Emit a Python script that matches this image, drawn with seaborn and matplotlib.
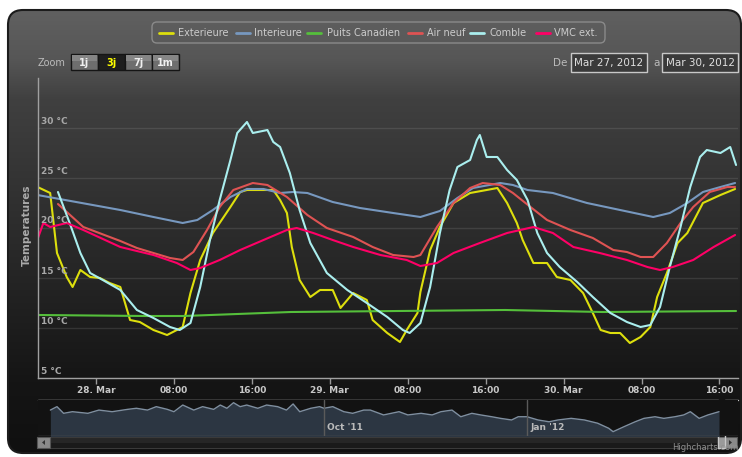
import pandas as pd
import matplotlib
matplotlib.use("Agg")
import matplotlib.pyplot as plt
import matplotlib.dates as mdates
import matplotlib.transforms as mtransforms
from matplotlib.patches import FancyBboxPatch, Rectangle, Polygon
from matplotlib.colors import LinearSegmentedColormap
from matplotlib.ticker import FuncFormatter
import numpy as np
import seaborn as sns

# values, hours counted from 28 Mar 2012 00:00
ext_h = [-6.0, -4.7, -4.0, -3.0, -2.4, -1.6, -0.6, 0.4, 1.4, 2.5, 3.5, 4.5, 5.9, 7.3, 8.9, 9.7, 10.7, 12.0,
         13.8, 14.8, 15.5, 16.8, 18.2, 18.9, 19.6, 20.1, 20.9, 22.0, 23.0, 24.3, 25.1, 26.4, 27.8, 28.4,
         29.9, 31.2, 31.9, 33.0, 33.3, 34.3, 35.3, 36.7, 38.4, 40.1, 41.2, 42.2, 43.2, 43.8, 44.9, 46.3,
         47.3, 48.7, 50.0, 51.0, 51.8, 52.8, 53.8, 54.8, 55.9, 56.9, 57.6, 58.6, 59.7, 60.7, 62.3, 64.1, 65.6]
ext_t = [24.1, 23.5, 17.5, 15.1, 14.1, 15.8, 15.1, 15.0, 14.5, 14.1, 10.8, 10.6, 9.8, 9.3, 10.1, 13.5, 16.8, 19.5,
         22.1, 23.6, 23.8, 23.8, 23.8, 22.8, 21.5, 18.1, 14.8, 13.1, 13.8, 13.8, 12.0, 13.5, 12.8, 10.8,
         9.5, 8.6, 9.8, 11.5, 13.6, 17.8, 20.1, 22.5, 23.5, 23.8, 24.0, 22.5, 20.5, 18.8, 16.5, 16.5,
         15.1, 14.8, 13.5, 11.5, 9.8, 9.5, 9.5, 8.5, 9.1, 10.1, 13.1, 15.5, 18.5, 19.5, 22.5, 23.3, 23.9]

int_h = [-6.0, 2.5, 5.9, 8.9, 10.4, 12.0, 13.8, 15.5, 17.2, 18.9, 20.2, 21.7, 24.3, 27.1, 30.5, 33.3,
         35.3, 37.1, 38.7, 41.5, 42.8, 44.3, 46.9, 50.4, 53.8, 57.2, 58.9, 60.7, 62.3, 64.1, 65.6]
int_t = [23.3, 21.8, 21.1, 20.5, 20.8, 21.8, 23.1, 23.9, 23.9, 23.5, 23.6, 23.5, 22.6, 22.0, 21.5, 21.1,
         21.7, 23.0, 24.0, 24.5, 24.3, 23.8, 23.5, 22.5, 21.8, 21.1, 21.5, 22.5, 23.6, 24.1, 24.5]

pc_h = [-6.0, 5.0, 9.0, 20.0, 42.0, 52.0, 65.7]
pc_t = [11.3, 11.2, 11.2, 11.6, 11.8, 11.6, 11.7]

air_h = [-3.9, -1.3, 2.5, 4.2, 5.9, 7.6, 8.9, 10.0, 11.4, 12.7, 14.1, 16.1, 17.6, 19.6, 21.7, 23.7,
         26.4, 28.4, 30.5, 32.6, 33.3, 35.0, 36.7, 38.4, 39.7, 41.5, 42.8, 44.6, 46.3, 48.7, 51.0,
         53.1, 54.5, 55.9, 57.2, 58.6, 60.0, 61.3, 63.0, 64.8, 65.6]
air_t = [22.4, 20.1, 18.7, 18.0, 17.5, 17.0, 16.8, 17.6, 19.8, 22.1, 23.8, 24.5, 24.3, 23.1, 21.3, 20.0,
         19.1, 18.1, 17.3, 17.1, 17.3, 20.1, 22.5, 24.0, 24.5, 24.3, 23.5, 22.1, 20.8, 19.8, 19.0,
         17.8, 17.6, 17.1, 17.1, 18.5, 20.5, 22.1, 23.6, 24.1, 24.1]

com_h = [-3.9, -2.7, -1.6, -0.6, 0.7, 2.5, 4.2, 5.9, 7.6, 8.6, 9.7, 10.7, 11.7, 12.7, 13.8, 14.5,
         15.5, 16.1, 17.6, 18.2, 18.9, 19.9, 20.9, 22.0, 23.7, 25.8, 27.8, 29.9, 31.5, 32.2, 33.3,
         34.3, 35.3, 36.3, 37.1, 38.4, 39.1, 39.4, 40.1, 41.2, 42.2, 43.2, 44.3, 45.3, 46.3, 47.6,
         49.4, 51.0, 52.8, 54.5, 55.9, 56.9, 57.9, 58.9, 60.0, 61.0, 62.0, 62.7, 64.1, 65.1, 65.7]
com_t = [23.6, 20.5, 17.5, 15.5, 14.8, 13.8, 11.8, 11.0, 10.1, 9.8, 10.5, 14.1, 18.8, 22.8, 26.8, 29.5,
         30.6, 29.5, 29.8, 28.6, 28.1, 25.5, 21.8, 18.5, 15.5, 13.8, 12.5, 11.1, 9.8, 9.5, 10.5,
         14.1, 19.5, 23.8, 26.1, 26.8, 28.8, 29.3, 27.1, 27.1, 25.8, 24.8, 22.8, 19.5, 17.5, 16.1,
         14.6, 13.1, 11.5, 10.6, 10.1, 10.3, 12.1, 16.1, 20.1, 24.1, 27.1, 27.8, 27.5, 28.1, 26.3]

vmc_h = [-6.1, -5.4, -4.7, -3.0, -1.3, 2.5, 5.9, 8.3, 9.7, 10.7, 12.7, 14.8, 17.2, 19.6, 20.6, 22.3,
         24.3, 26.4, 29.2, 31.9, 33.3, 35.0, 36.7, 39.4, 42.2, 44.9, 46.9, 49.0, 51.7, 54.5, 56.6,
         57.9, 59.2, 61.3, 63.4, 65.6]
vmc_t = [18.6, 20.5, 20.1, 20.5, 19.8, 18.1, 17.3, 16.5, 15.8, 16.0, 16.8, 17.8, 18.8, 19.8, 20.0, 19.5,
         18.8, 18.1, 17.3, 16.8, 16.2, 16.5, 17.5, 18.5, 19.5, 20.1, 19.5, 18.1, 17.5, 16.8, 16.1,
         15.8, 16.1, 16.8, 18.1, 19.3]

series_names = ["Exterieure", "Interieure", "Puits Canadien", "Air neuf", "Comble", "VMC ext."]
series_colors = ["#DDDF0D", "#7798BF", "#55BF3B", "#DF5353", "#AAEEEE", "#FF0066"]
series_hours = [ext_h, int_h, pc_h, air_h, com_h, vmc_h]
series_temps = [ext_t, int_t, pc_t, air_t, com_t, vmc_t]

y_ticks = [5, 10, 15, 20, 25, 30]

# navigator: long range series, days from 1 Oct 2011
nav_days = [-124, -121, -118, -114, -107, -102, -96, -89, -85, -80, -76, -71, -68, -64, -59, -55, -50, -47,
            -44, -41, -38, -35, -30, -26, -21, -17, -14, -11, -6, -2, 0, 4, 9, 13, 18, 21,
            27, 34, 38, 44, 49, 53, 58, 62, 67, 71, 76, 80, 85, 88, 92, 97, 102, 106, 112, 118, 124,
            129, 131, 136, 141, 145, 150, 154, 159, 163, 166, 170, 174, 179]
nav_vals = [14.4, 16.3, 12.6, 13.5, 12.6, 14.4, 13.5, 14.8, 15.4, 14.4, 16.3, 14.8, 13.5, 17.2, 14.4, 16.3,
            14.8, 17.2, 15.4, 18.5, 16.3, 17.2, 15.4, 17.2, 16.3, 14.4, 17.8, 13.5, 15.4, 16.3, 15.4, 16.3,
            13.5, 12.6, 14.4, 14.4,
            11.7, 13.5, 11.7, 12.6, 11.7, 13.5, 14.4, 10.7, 12.6, 11.7, 10.7, 9.8, 8.9, 10.7, 10.7, 8.9,
            7.9, 8.9, 9.8, 8.9, 7.1, 4.3, 2.4, 5.2, 7.9, 9.8, 10.7, 9.8, 10.7, 11.7, 13.5, 9.8, 11.7, 13.5]
nav_months = ["2011-10-01", "2012-01-01"]
nav_month_labels = ["Oct '11", "Jan '12"]

t0 = pd.Timestamp("2012-03-28 00:00")
nav0 = pd.Timestamp("2011-10-01")
sel_start = pd.Timestamp("2012-03-27 18:00")
sel_end = pd.Timestamp("2012-03-30 17:50")

frames = []
for name, h, t in zip(series_names, series_hours, series_temps):
    frames.append(pd.DataFrame({"time": t0 + pd.to_timedelta(h, unit="h"), "temp": t, "serie": name}))
df = pd.concat(frames, ignore_index=True)

nav_df = pd.DataFrame({"date": nav0 + pd.to_timedelta(nav_days, unit="D"), "val": nav_vals})

sns.set_theme(style="dark")
plt.rcParams["font.family"] = ["DejaVu Sans"]

W, H = 742, 457
fig = plt.figure(figsize=(W / 100, H / 100), dpi=100)
fig.patch.set_facecolor("white")

# background (pixel coordinates, y down)
bg = fig.add_axes([0, 0, 1, 1], zorder=-10)
bg.set_xlim(0, W)
bg.set_ylim(H, 0)
bg.axis("off")
box = FancyBboxPatch((8, 10), 733, 443, boxstyle="round,pad=0,rounding_size=15",
                     fc="none", ec="#1c1c1c", lw=1.5, transform=bg.transData)
grad = LinearSegmentedColormap.from_list(
    "g", [(0.0, "#606060"), (0.11, "#565656"), (0.2, "#404040"), (0.84, "#151515"), (1.0, "#101010")])
im = bg.imshow(np.linspace(0, 1, 256).reshape(-1, 1), cmap=grad, aspect="auto",
               extent=(8, 741, 453, 10), zorder=0)
im.set_clip_path(box)
bg.add_patch(box)

# legend
leg_box = FancyBboxPatch((152, 22), 453, 21, boxstyle="round,pad=0,rounding_size=5",
                         fc="none", ec="#8a8a8a", lw=1)
bg.add_patch(leg_box)
leg_line_x = [159, 236, 307, 408, 470, 536]
leg_text_x = [178, 254, 327, 427, 490, 554]
for name, col, lx, tx in zip(series_names, series_colors, leg_line_x, leg_text_x):
    bg.plot([lx, lx + 14], [33, 33], color=col, lw=2)
    bg.text(tx, 33.5, name, color="#CCCCCC", fontsize=7, va="center", ha="left")

# zoom buttons
bg.text(38, 62.5, "Zoom", color="#BBBBBB", fontsize=7, va="center")
btn_labels = ["1j", "3j", "7j", "1m"]
btn_x = [71, 98, 125, 152]
for lab, bx in zip(btn_labels, btn_x):
    sel = lab == "3j"
    bg.add_patch(Rectangle((bx, 54), 27, 16, fc="#1e1e1e" if sel else "#6e6e6e", ec="#151515", lw=1))
    if not sel:
        bg.add_patch(Rectangle((bx + 1, 55), 25, 6, fc="#858585", ec="none"))
    bg.text(bx + 13.5, 62.5, lab, color="#FFFF00" if sel else "#F0F0F0", fontsize=7,
            fontweight="bold", ha="center", va="center")

# date inputs
bg.text(553, 63, "De", color="#BBBBBB", fontsize=7.5, va="center")
bg.text(653, 63, "a", color="#BBBBBB", fontsize=7.5, va="center")
for bx, txt in zip([571, 662], ["Mar 27, 2012", "Mar 30, 2012"]):
    bg.add_patch(Rectangle((bx, 53), 76, 19, fc="#3a3a3a", ec="#C8C8C8", lw=1))
    bg.text(bx + 38, 63, txt, color="#E0E0E0", fontsize=7.5, ha="center", va="center")

bg.text(27, 225, "Temperatures", rotation=90, color="#AAAAAA", fontsize=7.5, fontweight="bold",
        ha="center", va="center")
bg.text(738, 452, "Highcharts.com", color="#909090", fontsize=6, ha="right", va="bottom")

# main chart
ax = fig.add_axes([38 / W, 1 - 378 / H, 700 / W, 300 / H])
ax.set_facecolor("none")
sns.lineplot(data=df, x="time", y="temp", hue="serie", hue_order=series_names,
             palette=dict(zip(series_names, series_colors)), estimator=None, linewidth=1.5,
             legend=False, ax=ax)
ax.set_xlim(t0 - pd.Timedelta(hours=5.95), t0 + pd.Timedelta(hours=65.9))
ax.set_ylim(5, 35)
ax.set_yticks(y_ticks)
ax.set_yticklabels([])
ax.tick_params(axis="y", length=0)
ax.grid(axis="y", color="#FFFFFF", alpha=0.1, lw=1)
ax.grid(axis="x", visible=False)
ylab_tr = mtransforms.blended_transform_factory(ax.transAxes, ax.transData)
for v in y_ticks:
    ax.text(0.004, v + 0.25, f"{v} °C", transform=ylab_tr, color="#A8A8A8", fontsize=6.5,
            fontweight="bold", ha="left", va="bottom")

ax.xaxis.set_major_locator(mdates.HourLocator(byhour=[0, 8, 16]))
ax.xaxis.set_major_formatter(FuncFormatter(
    lambda v, p: mdates.num2date(v).strftime("%d. %b") if mdates.num2date(v).hour == 0
    else mdates.num2date(v).strftime("%H:%M")))
ax.tick_params(axis="x", colors="#999999", labelcolor="#C8C8C8", labelsize=6.5, length=4,
               width=1, pad=1.5, direction="out", bottom=True)
for lbl in ax.get_xticklabels():
    lbl.set_fontweight("bold")
ax.set_xlabel("")
ax.set_ylabel("")
for s in ["top", "right"]:
    ax.spines[s].set_visible(False)
ax.spines["left"].set_color("#A0A0A0")
ax.spines["bottom"].set_color("#A0A0A0")
ax.spines["left"].set_linewidth(1)
ax.spines["bottom"].set_linewidth(1)

# navigator
nav = fig.add_axes([38 / W, 1 - 436 / H, 700 / W, 36 / H])
nav.set_facecolor("#121212")
sns.lineplot(data=nav_df, x="date", y="val", color="#7F8FA0", linewidth=1, ax=nav)
nav.fill_between(nav_df["date"], nav_df["val"], -5, color="#2C3642", lw=0)
nav.set_xlim(nav0 - pd.Timedelta(days=129.6), nav0 + pd.Timedelta(days=187.6))
nav.set_ylim(0, 20)
nav.set_xticks([])
nav.set_yticks([])
nav.set_xlabel("")
nav.set_ylabel("")
for s in nav.spines.values():
    s.set_visible(False)
nav_tr = mtransforms.blended_transform_factory(nav.transData, nav.transAxes)
for m, lab in zip(nav_months, nav_month_labels):
    md = pd.Timestamp(m)
    nav.plot([md, md], [0, 1], transform=nav_tr, color="#5a5a5a", lw=1)
    nav.text(md + pd.Timedelta(days=1.5), 0.25, lab, transform=nav_tr, color="#BBBBBB",
             fontsize=6.5, fontweight="bold", ha="left", va="center")
nav.plot([0, 1], [0, 0], transform=nav.transAxes, color="#555555", lw=1)

# scrollbar
bg.add_patch(Rectangle((37, 437), 700, 11, fc="#262626", ec="#3a3a3a", lw=0.8))
bg.add_patch(Rectangle((37, 442.5), 700, 5.5, fc="#1a1a1a", ec="none"))
bg.add_patch(Rectangle((37, 437), 13, 11, fc="#8a8a8a", ec="#555555", lw=0.8))
bg.add_patch(Polygon([[45, 440], [45, 445], [42, 442.5]], fc="#333333", ec="none"))
bg.add_patch(Rectangle((724, 437), 13, 11, fc="#8a8a8a", ec="#555555", lw=0.8))
bg.add_patch(Polygon([[729, 440], [729, 445], [732, 442.5]], fc="#333333", ec="none"))

# selection outline and handles
xs = nav.transData.transform((mdates.date2num(sel_start), 0))[0]
xe = nav.transData.transform((mdates.date2num(sel_end), 0))[0]
bg.add_patch(Rectangle((xs, 400), xe - xs, 36, fc="#7798BF", alpha=0.35, ec="none", zorder=5))
bg.add_patch(Rectangle((xs, 437), xe - xs, 11, fc="#9a9a9a", ec="#666666", lw=0.8))
bg.plot([38, xs, xs, xe, xe, 738], [400, 400, 448, 448, 400, 400], color="#C8C8C8", lw=1)
for hx in [xs, xe]:
    bg.add_patch(FancyBboxPatch((hx - 3.5, 410), 7, 15, boxstyle="round,pad=0,rounding_size=2",
                                fc="#9a9a9a", ec="#D0D0D0", lw=0.8))
    bg.plot([hx - 1, hx - 1], [414, 421], color="#555555", lw=0.7)
    bg.plot([hx + 1, hx + 1], [414, 421], color="#555555", lw=0.7)

fig.savefig("out.png", dpi=100)
